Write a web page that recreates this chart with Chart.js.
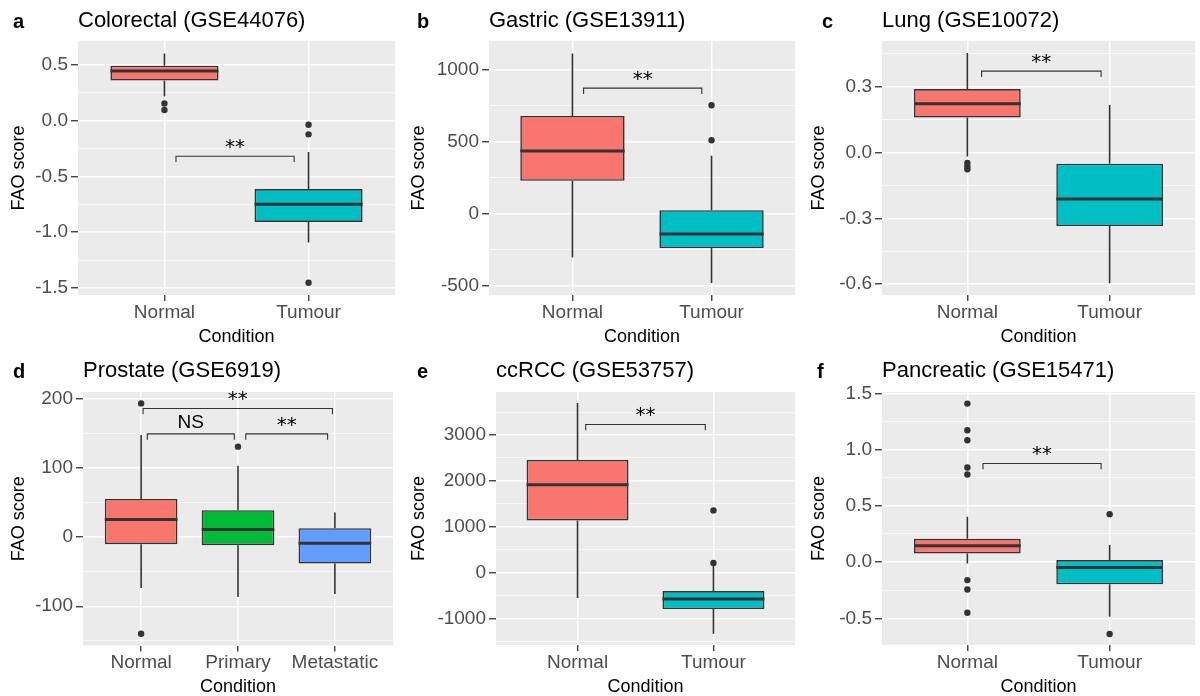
<!DOCTYPE html>
<html>
<head>
<meta charset="utf-8">
<title>FAO score by condition</title>
<script src="https://cdn.jsdelivr.net/npm/chart.js@4.4.0/dist/chart.umd.min.js"></script>
<style>
  html, body { margin: 0; padding: 0; background: #fff; overflow: hidden; }
  #fig { position: relative; width: 1200px; height: 696px; }
  #fig canvas { position: absolute; }
</style>
</head>
<body>
<div id="fig"></div>
<script>
// box stats per group: [lower whisker, Q1, median, Q3, upper whisker]
// brackets: [from x, to x, height, label]

// a - Colorectal
const colorectalGroups = ['Normal', 'Tumour'];
const colorectalStats = [[0.217, 0.36, 0.446, 0.494, 0.604], [-1.092, -0.908, -0.75, -0.613, -0.28]];
const colorectalOutliers = [[0.155, 0.096], [-0.036, -0.122, -1.453]];
const colorectalTicks = [-1.5, -1.0, -0.5, 0, 0.5];
const colorectalRange = [-1.563, 0.715];
const colorectalBrackets = [[1.08, 1.9, -0.318, '**']];

// b - Gastric
const gastricGroups = ['Normal', 'Tumour'];
const gastricStats = [[-302, 228, 435, 677, 1110], [-479, -237, -140, 25, 401]];
const gastricOutliers = [[], [751, 509]];
const gastricTicks = [-500, 0, 500, 1000];
const gastricRange = [-562, 1196];
const gastricBrackets = [[1.08, 1.93, 870, '**']];

// c - Lung
const lungGroups = ['Normal', 'Tumour'];
const lungStats = [[-0.018, 0.159, 0.222, 0.289, 0.453], [-0.595, -0.335, -0.212, -0.051, 0.217]];
const lungOutliers = [[-0.048, -0.064, -0.076], []];
const lungTicks = [-0.6, -0.3, 0, 0.3];
const lungRange = [-0.649, 0.508];
const lungBrackets = [[1.1, 1.94, 0.371, '**']];

// d - Prostate
const prostateGroups = ['Normal', 'Primary', 'Metastatic'];
const prostateStats = [[-73.7, -10.1, 25.4, 55.3, 147.8], [-86.7, -11.6, 11, 39, 103.5], [-82.4, -38.1, -8.7, 13, 35.6]];
const prostateOutliers = [[193.6, -139.7], [131], []];
const prostateTicks = [-100, 0, 100, 200];
const prostateRange = [-156.8, 210.1];
const prostateBrackets = [[1.02, 2.975, 186.3, '**'], [1.064, 1.962, 149.5, 'NS'], [2.08, 2.925, 149.5, '**']];

// e - ccRCC
const ccrccGroups = ['Normal', 'Tumour'];
const ccrccStats = [[-559, 1135, 1915, 2454, 3699], [-1338, -799, -581, -406, 150]];
const ccrccOutliers = [[], [1354, 205]];
const ccrccTicks = [-1000, 0, 1000, 2000, 3000];
const ccrccRange = [-1583, 3938];
const ccrccBrackets = [[1.06, 1.94, 3230, '**']];

// f - Pancreatic
const pancreaticGroups = ['Normal', 'Tumour'];
const pancreaticStats = [[-0.012, 0.077, 0.145, 0.207, 0.402], [-0.486, -0.198, -0.047, 0.018, 0.151]];
const pancreaticOutliers = [[1.409, 1.172, 1.083, 0.841, 0.779, -0.16, -0.243, -0.45], [0.426, -0.639]];
const pancreaticTicks = [-0.5, 0, 0.5, 1.0, 1.5];
const pancreaticRange = [-0.737, 1.512];
const pancreaticBrackets = [[1.11, 1.94, 0.877, '**']];

const FONT = "'Liberation Sans', Arial, Helvetica, sans-serif";
const W = 400, H = 348;
const HUE2 = ['#F8766D', '#00BFC4'];
const HUE3 = ['#F8766D', '#00BA38', '#619CFF'];
Chart.defaults.font.family = FONT;

const panels = [
  { tag: 'a', title: 'Colorectal (GSE44076)', groups: colorectalGroups, stats: colorectalStats, outliers: colorectalOutliers,
    ticks: colorectalTicks, range: colorectalRange, brackets: colorectalBrackets, digits: 1,
    left: 0, top: 0, area: { left: 78, right: 395, top: 41, bottom: 295 }, tagX: 13 },
  { tag: 'b', title: 'Gastric (GSE13911)', groups: gastricGroups, stats: gastricStats, outliers: gastricOutliers,
    ticks: gastricTicks, range: gastricRange, brackets: gastricBrackets, digits: 0,
    left: 400, top: 0, area: { left: 89, right: 395, top: 41, bottom: 295 }, tagX: 17 },
  { tag: 'c', title: 'Lung (GSE10072)', groups: lungGroups, stats: lungStats, outliers: lungOutliers,
    ticks: lungTicks, range: lungRange, brackets: lungBrackets, digits: 1,
    left: 800, top: 0, area: { left: 82, right: 395, top: 41, bottom: 295 }, tagX: 22 },
  { tag: 'd', title: 'Prostate (GSE6919)', groups: prostateGroups, stats: prostateStats, outliers: prostateOutliers,
    ticks: prostateTicks, range: prostateRange, brackets: prostateBrackets, digits: 0,
    left: 0, top: 350, area: { left: 83, right: 393, top: 42, bottom: 295.5 }, tagX: 13 },
  { tag: 'e', title: 'ccRCC (GSE53757)', groups: ccrccGroups, stats: ccrccStats, outliers: ccrccOutliers,
    ticks: ccrccTicks, range: ccrccRange, brackets: ccrccBrackets, digits: 0,
    left: 400, top: 350, area: { left: 96, right: 395, top: 42, bottom: 295 }, tagX: 17 },
  { tag: 'f', title: 'Pancreatic (GSE15471)', groups: pancreaticGroups, stats: pancreaticStats, outliers: pancreaticOutliers,
    ticks: pancreaticTicks, range: pancreaticRange, brackets: pancreaticBrackets, digits: 1,
    left: 800, top: 350, area: { left: 82, right: 395, top: 42, bottom: 295 }, tagX: 17 }
];

// major breaks plus the half-way minor breaks that fall inside the range
function gridTicks(majors, min, max) {
  const step = majors[1] - majors[0];
  const out = majors.map(v => ({ value: v }));
  for (let v = majors[0] - step / 2; v <= max + 1e-9; v += step) {
    if (v >= min) out.push({ value: v, minor: true });
  }
  return out.sort((p, q) => p.value - q.value);
}

function boxPlot(p) {
  const half = 0.375;
  return {
    id: 'boxPlot',
    beforeDraw(chart) {
      const { ctx, chartArea: a } = chart;
      ctx.save();
      ctx.fillStyle = '#EBEBEB';
      ctx.fillRect(a.left, a.top, a.right - a.left, a.bottom - a.top);
      ctx.restore();
    },
    beforeDatasetsDraw(chart) {
      // whiskers sit under the boxes
      const { ctx, scales: { x, y } } = chart;
      ctx.save();
      ctx.strokeStyle = '#333333';
      ctx.lineWidth = 1.6;
      p.stats.forEach((s, i) => {
        const px = x.getPixelForValue(i + 1);
        ctx.beginPath();
        ctx.moveTo(px, y.getPixelForValue(s[0]));
        ctx.lineTo(px, y.getPixelForValue(s[1]));
        ctx.moveTo(px, y.getPixelForValue(s[3]));
        ctx.lineTo(px, y.getPixelForValue(s[4]));
        ctx.stroke();
      });
      ctx.restore();
    },
    afterDatasetsDraw(chart) {
      const { ctx, scales: { x, y } } = chart;
      ctx.save();
      // medians
      ctx.strokeStyle = '#333333';
      ctx.lineWidth = 3;
      p.stats.forEach((s, i) => {
        const my = y.getPixelForValue(s[2]);
        ctx.beginPath();
        ctx.moveTo(x.getPixelForValue(i + 1 - half), my);
        ctx.lineTo(x.getPixelForValue(i + 1 + half), my);
        ctx.stroke();
      });
      // significance brackets
      const tip = 0.023 * (p.range[1] - p.range[0]);
      ctx.lineWidth = 1.1;
      ctx.fillStyle = '#000';
      ctx.textAlign = 'center';
      ctx.textBaseline = 'alphabetic';
      p.brackets.forEach(([x0, x1, v, label]) => {
        const l = x.getPixelForValue(x0), r = x.getPixelForValue(x1);
        const top = y.getPixelForValue(v), foot = y.getPixelForValue(v - tip);
        ctx.beginPath();
        ctx.moveTo(l, foot);
        ctx.lineTo(l, top);
        ctx.lineTo(r, top);
        ctx.lineTo(r, foot);
        ctx.stroke();
        ctx.font = label === 'NS' ? '19px ' + FONT : "20px 'DejaVu Sans'";
        const m = ctx.measureText(label);
        const cy = top - 12.5;
        ctx.fillText(label, (l + r) / 2, cy + (m.actualBoundingBoxAscent - m.actualBoundingBoxDescent) / 2);
      });
      ctx.restore();
    },
    afterDraw(chart) {
      const { ctx, chartArea: a } = chart;
      ctx.save();
      ctx.fillStyle = '#000';
      ctx.textAlign = 'left';
      ctx.textBaseline = 'alphabetic';
      ctx.font = 'bold 20px ' + FONT;
      ctx.fillText(p.tag, p.tagX, 27.5);
      ctx.font = '22px ' + FONT;
      ctx.fillText(p.title, a.left, 26.7);
      ctx.restore();
    }
  };
}

function drawPanel(p) {
  const canvas = document.createElement('canvas');
  canvas.width = W;
  canvas.height = H;
  canvas.style.left = p.left + 'px';
  canvas.style.top = p.top + 'px';
  document.getElementById('fig').appendChild(canvas);

  const colours = p.groups.length === 3 ? HUE3 : HUE2;
  const points = [];
  p.outliers.forEach((vals, i) => vals.forEach(v => points.push({ x: i + 1, y: v })));

  new Chart(canvas, {
    type: 'bar',
    data: {
      datasets: [
        {
          type: 'bar',
          data: p.stats.map((s, i) => ({ x: i + 1, y: [s[1], s[3]] })),
          backgroundColor: colours,
          borderColor: '#333333',
          borderWidth: 1.6,
          borderSkipped: false,
          barPercentage: 0.75,
          categoryPercentage: 1
        },
        {
          type: 'scatter',
          data: points,
          backgroundColor: '#333333',
          borderWidth: 0,
          pointRadius: 3.2
        }
      ]
    },
    options: {
      responsive: false,
      animation: false,
      events: [],
      layout: { padding: { top: p.area.top, right: W - p.area.right, bottom: 0, left: 0 } },
      plugins: { legend: { display: false }, tooltip: { enabled: false } },
      scales: {
        x: {
          type: 'linear',
          min: 0.4,
          max: p.groups.length + 0.6,
          offset: false,
          afterBuildTicks: s => { s.ticks = p.groups.map((g, i) => ({ value: i + 1 })); },
          afterFit: s => { s.height = H - p.area.bottom; },
          ticks: {
            autoSkip: false, maxRotation: 0, padding: 0, color: '#4D4D4D',
            font: { size: 19 },
            callback: v => p.groups[Math.round(v) - 1]
          },
          grid: { offset: false, color: '#FFFFFF', lineWidth: 1.5, tickColor: '#333333', tickLength: 6, tickWidth: 1.3 },
          border: { display: false },
          title: { display: true, text: 'Condition', color: '#000', font: { size: 18 }, padding: { top: 0, bottom: 0 } }
        },
        y: {
          min: p.range[0],
          max: p.range[1],
          afterBuildTicks: s => { s.ticks = gridTicks(p.ticks, p.range[0], p.range[1]); },
          afterFit: s => { s.width = p.area.left; },
          ticks: {
            autoSkip: false, padding: 3, color: '#4D4D4D',
            font: { size: 19 },
            callback: (v, i, t) => t[i].minor ? '' : v.toFixed(p.digits)
          },
          grid: {
            color: '#FFFFFF',
            lineWidth: c => (c.tick && c.tick.minor ? 0.7 : 1.5),
            tickColor: c => (c.tick && c.tick.minor ? 'rgba(0,0,0,0)' : '#333333'),
            tickLength: 7,
            tickWidth: 1.3
          },
          border: { display: false },
          title: { display: true, text: 'FAO score', color: '#000', font: { size: 18 }, padding: { top: 8, bottom: 0 } }
        }
      }
    },
    plugins: [boxPlot(p)]
  });
}

panels.forEach(drawPanel);
</script>
</body>
</html>
